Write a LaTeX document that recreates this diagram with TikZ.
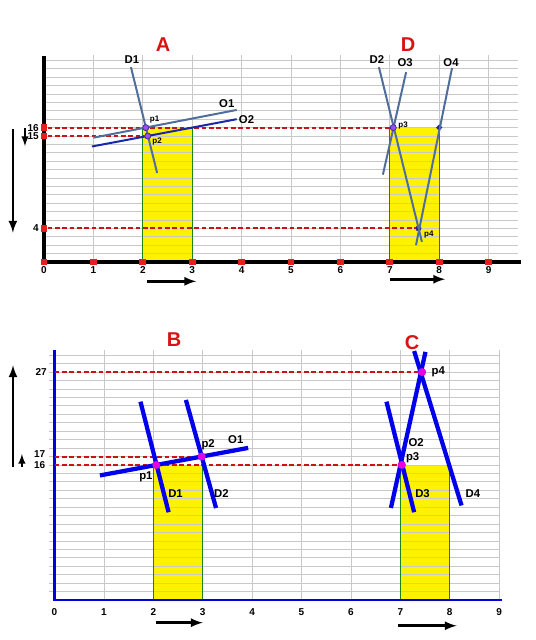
\documentclass[tikz,border=0pt]{standalone}
\usepackage{fontspec}
\setmainfont{Liberation Sans}
\usetikzlibrary{positioning,arrows,calc}

\begin{document}
\begin{tikzpicture}
	[x=0.75pt,y=0.75pt,font=\bfseries,
	grd/.style={draw={rgb, 255:red, 200; green, 200; blue, 200},line width=0.6pt},
	grn/.style={draw={rgb, 255:red, 30; green, 130; blue, 30},line width=0.9pt},
	rdash/.style={draw={rgb, 255:red, 200; green, 20; blue, 20},line width=1.5pt,dash pattern=on 3.5pt off 2pt},
	sq/.style={rectangle,fill={rgb, 255:red, 230; green, 30; blue, 30},inner sep=0pt,minimum size=5pt},
	nn/.style={circle,fill={rgb, 255:red, 150; green, 80; blue, 235},draw={rgb, 255:red, 60; green, 30; blue, 150},inner sep=0pt,minimum size=4.5pt},
	mm/.style={circle,fill={rgb, 255:red, 230; green, 0; blue, 230},inner sep=0pt,minimum size=6pt},
	slate/.style={draw={rgb, 255:red, 80; green, 110; blue, 155},line width=1.5pt},
	dblue/.style={draw={rgb, 255:red, 25; green, 40; blue, 170},line width=1.5pt},
	bblue/.style={draw={rgb, 255:red, 0; green, 0; blue, 235},line width=3.2pt},
	ttl/.style={text={rgb, 255:red, 215; green, 20; blue, 20},font=\bfseries\fontsize{15}{15}\selectfont},
	lbl/.style={font=\bfseries\fontsize{8.5}{9}\selectfont,inner sep=0pt},
	plbl/.style={font=\bfseries\fontsize{6}{7}\selectfont,inner sep=0pt},
	tck/.style={font=\bfseries\fontsize{7.5}{8}\selectfont,inner sep=0pt},
	arr/.style={-latex,line width=2pt}]
	\useasboundingbox (0,0) rectangle (536,640);
	%%%%% TOP PANEL (A and D)
	\begin{scope}[shift={(33pt,283.5pt)},x=37.05pt,y=6.3pt]
	\fill[yellow] (2,0) rectangle (3,16);
	\fill[yellow] (7,0) rectangle (8,16);
	\foreach \i in {1,...,24}
	{
	\draw[grd] (0,\i) -- (9.6,\i);
	};
	\foreach \i in {1,...,9}
	{
	\draw[grd] (\i,0) -- (\i,24.6);
	};
	\draw[grn] (2,0) -- (2,16) (3,0) -- (3,16) (7,0) -- (7,16) (8,0) -- (8,16);
	\draw[line width=3pt] (0,24.5) -- (0,0) -- (9.65,0);
	\foreach \i in {0,...,9}
	{
	\node[sq] (xa\i) at (\i,0) {};
	\node[tck] (xl\i) at (\i,-1) {\i};
	};
	\foreach \i in {16,15,4}
	{
	\node[sq] (ya\i) at (0,\i) {};
	\node[tck,left=1pt of ya\i] (yl\i) {\i};
	};
	% points
	\node[nn] (ap1) at (2.06,16) {};
	\node[nn] (ap2) at (2.1,15) {};
	\node[nn] (ap3) at (7.07,16) {};
	\node[nn,fill={rgb, 255:red, 20; green, 30; blue, 160},minimum size=4pt] (ap4) at (7.58,4) {};
	\fill[dblue,fill={rgb, 255:red, 20; green, 30; blue, 160}] (8,16) circle (1.3pt);
	% dashed guides
	\draw[rdash] (ya16) -- (ap3);
	\draw[rdash] (ya15) -- (ap2);
	\draw[rdash] (ya4) -- (ap4);
	% lines of A
	\coordinate (ad1a) at (1.76,23.2);
	\coordinate (ad1b) at (2.29,10.6);
	\coordinate (ao1a) at (1.0,14.8);
	\coordinate (ao1b) at (3.9,18.1);
	\coordinate (ao2a) at (0.97,13.75);
	\coordinate (ao2b) at (3.9,17.0);
	\draw[slate] (ad1a) -- (ad1b);
	\draw[slate] (ao1a) -- (ao1b);
	\draw[dblue] (ao2a) -- (ao2b);
	% lines of D
	\coordinate (ad2a) at (6.78,23.2);
	\coordinate (ad2b) at (7.65,2.4);
	\coordinate (ao3a) at (7.33,22.6);
	\coordinate (ao3b) at (6.86,10.4);
	\coordinate (ao4a) at (8.26,23.1);
	\coordinate (ao4b) at (7.53,2.0);
	\draw[slate] (ad2a) -- (ad2b);
	\draw[slate] (ao3a) -- (ao3b);
	\draw[slate] (ao4a) -- (ao4b);
	\node[nn] at (ap1) {};
	\node[nn] at (ap2) {};
	\node[nn] at (ap3) {};
	% labels
	\node[ttl] (tA) at (2.41,25.9) {A};
	\node[ttl] (tD) at (7.37,25.9) {D};
	\node[lbl] (lD1) at (1.78,24.1) {D1};
	\node[lbl] (lO1) at (3.7,18.8) {O1};
	\node[lbl] (lO2) at (4.1,16.9) {O2};
	\node[lbl] (lD2) at (6.74,24.1) {D2};
	\node[lbl] (lO3) at (7.31,23.7) {O3};
	\node[lbl] (lO4) at (8.24,23.7) {O4};
	\node[plbl] (lp1) at (2.24,16.9) {p1};
	\node[plbl] (lp2) at (2.29,14.3) {p2};
	\node[plbl] (lp3) at (7.27,16.3) {p3};
	\node[plbl] (lp4) at (7.79,3.3) {p4};
	% arrows
	\coordinate (aa1) at (-0.63,15.8);
	\coordinate (aa2) at (-0.63,3.5);
	\coordinate (ab1) at (-0.385,15.9);
	\coordinate (ab2) at (-0.385,13.8);
	\coordinate (ac1) at (2.08,-2.3);
	\coordinate (ac2) at (3.08,-2.3);
	\coordinate (ad1) at (7.0,-2.05);
	\coordinate (ad2) at (8.12,-2.05);
	\draw[arr] (aa1) -- (aa2);
	\draw[arr,line width=1.5pt] (ab1) -- (ab2);
	\draw[arr] (ac1) -- (ac2);
	\draw[arr] (ad1) -- (ad2);
	\end{scope}
	%%%%% BOTTOM PANEL (B and C)
	\begin{scope}[shift={(40.875pt,30pt)},x=37.05pt,y=6.33pt]
	\fill[yellow] (2,0) rectangle (3,16);
	\fill[yellow] (7,0) rectangle (8,16);
	\foreach \i in {1,...,29}
	{
	\draw[grd] (-0.12,\i) -- (9,\i);
	};
	\foreach \i in {1,...,9}
	{
	\draw[grd] (\i,0) -- (\i,29.6);
	};
	\draw[grn] (2,0) -- (2,16) (3,0) -- (3,16) (7,0) -- (7,16) (8,0) -- (8,16);
	\draw[draw={rgb, 255:red, 0; green, 0; blue, 220},line width=2.2pt] (0,29.6) -- (0,0) -- (9.06,0);
	\foreach \i in {0,...,9}
	{
	\node[tck] (xm\i) at (\i,-1.45) {\i};
	};
	\coordinate (yb27) at (0,27);
	\coordinate (yb17) at (0,17);
	\coordinate (yb16) at (0,16);
	\node[tck] (ym27) at (-0.27,27) {27};
	\node[tck] (ym17) at (-0.3,17.3) {17};
	\node[tck] (ym16) at (-0.3,16) {16};
	% points
	\node[mm] (bp1) at (2.06,16) {};
	\node[mm] (bp2) at (2.98,17) {};
	\node[mm] (bp3) at (7.03,16) {};
	\node[mm] (bp4) at (7.44,27) {};
	% dashed guides
	\draw[rdash] (yb27) -- (bp4);
	\draw[rdash] (yb17) -- (bp2);
	\draw[rdash] (yb16) -- (bp3);
	% lines of B
	\coordinate (bd1a) at (1.74,23.5);
	\coordinate (bd1b) at (2.31,10.4);
	\coordinate (bd2a) at (2.66,23.7);
	\coordinate (bd2b) at (3.27,10.9);
	\coordinate (bo1a) at (0.92,14.76);
	\coordinate (bo1b) at (3.92,18.02);
	\draw[bblue] (bd1a) -- (bd1b);
	\draw[bblue] (bd2a) -- (bd2b);
	\draw[bblue] (bo1a) -- (bo1b);
	% lines of C
	\coordinate (bo2a) at (6.81,10.9);
	\coordinate (bo2b) at (7.51,29.4);
	\coordinate (bd3a) at (6.72,23.5);
	\coordinate (bd3b) at (7.28,10.4);
	\coordinate (bd4a) at (7.28,29.5);
	\coordinate (bd4b) at (8.24,11.2);
	\draw[bblue] (bo2a) -- (bo2b);
	\draw[bblue] (bd3a) -- (bd3b);
	\draw[bblue] (bd4a) -- (bd4b);
	\node[mm] at (bp1) {};
	\node[mm] at (bp2) {};
	\node[mm] at (bp3) {};
	\node[mm] at (bp4) {};
	% labels
	\node[ttl] (tB) at (2.42,30.9) {B};
	\node[ttl] (tC) at (7.24,30.45) {C};
	\node[lbl] (mO1) at (3.67,19) {O1};
	\node[lbl] (mp2) at (3.11,18.4) {p2};
	\node[lbl] (mp1) at (1.85,14.6) {p1};
	\node[lbl] (mD1) at (2.45,12.6) {D1};
	\node[lbl] (mD2) at (3.38,12.6) {D2};
	\node[lbl] (mO2) at (7.32,18.6) {O2};
	\node[lbl] (mp3) at (7.25,16.9) {p3};
	\node[lbl] (mD3) at (7.45,12.6) {D3};
	\node[lbl] (mD4) at (8.47,12.6) {D4};
	\node[lbl] (mp4) at (7.77,27) {p4};
	% arrows
	\coordinate (ba1) at (-0.84,15.8);
	\coordinate (ba2) at (-0.84,27.8);
	\coordinate (bb1) at (-0.66,15.8);
	\coordinate (bb2) at (-0.66,17.3);
	\coordinate (bc1) at (2.05,-2.69);
	\coordinate (bc2) at (3.0,-2.69);
	\coordinate (bd1) at (6.95,-3.05);
	\coordinate (bd2) at (8.14,-3.05);
	\draw[arr] (ba1) -- (ba2);
	\draw[arr,line width=1.5pt] (bb1) -- (bb2);
	\draw[arr] (bc1) -- (bc2);
	\draw[arr] (bd1) -- (bd2);
	\end{scope}
\end{tikzpicture}
\end{document}
